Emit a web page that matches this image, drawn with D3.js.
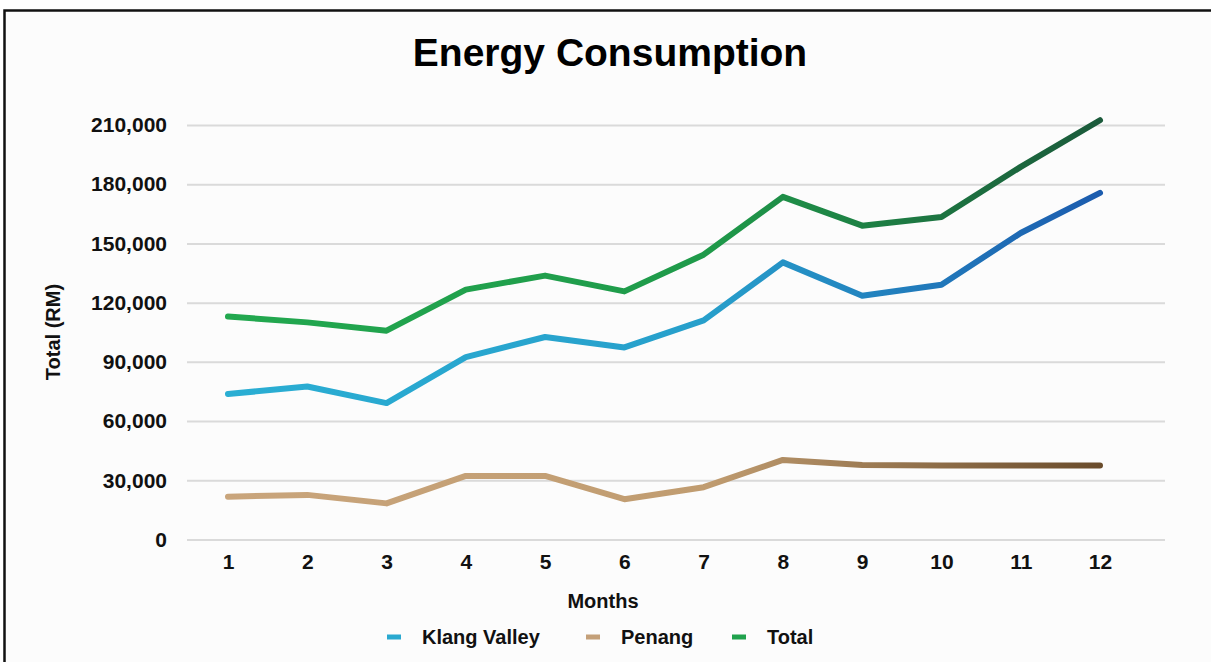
<!DOCTYPE html>
<html>
<head>
<meta charset="utf-8">
<script src="https://cdn.jsdelivr.net/npm/d3@7"></script>
<style>
  body { margin: 0; background: #fff; }
  svg { display: block; font-family: "Liberation Sans", Arial, sans-serif; font-weight: bold; }
</style>
</head>
<body>
<svg id="chart" width="1211" height="662"></svg>
<script>
// chart data
const months = [1, 2, 3, 4, 5, 6, 7, 8, 9, 10, 11, 12];
const klangValley = [73700, 77500, 69100, 92400, 102600, 97300, 111000, 140400, 123500, 129100, 155300, 175600];
const penang = [21700, 22600, 18300, 32200, 32200, 20400, 26500, 40300, 37800, 37500, 37500, 37500];
const total = [113000, 110000, 105800, 126600, 133700, 125700, 144300, 173600, 159000, 163400, 188800, 212400];
const yTicks = [0, 30000, 60000, 90000, 120000, 150000, 180000, 210000];
const seriesNames = ['Klang Valley', 'Penang', 'Total'];

const svg = d3.select('#chart');
const W = 1211, H = 662;

// frame
svg.append('rect')
    .attr('x', 4.5).attr('y', 10.5)
    .attr('width', W + 20).attr('height', H + 20)
    .attr('fill', '#fcfcfc')
    .attr('stroke', '#111')
    .attr('stroke-width', 2.5);

const plot = { left: 187, right: 1165, top: 125, bottom: 539.5 };

const x = d3.scaleLinear()
    .domain([1, 12])
    .range([228, 1100]);

const y = d3.scaleLinear()
    .domain([0, 210000])
    .range([plot.bottom, plot.top]);

// gridlines
svg.append('g')
    .attr('transform', `translate(${plot.left},0)`)
    .call(d3.axisLeft(y).tickValues(yTicks).tickSize(-(plot.right - plot.left)).tickFormat(''))
    .call(g => g.select('.domain').remove())
    .call(g => g.selectAll('line').attr('stroke', '#dadada').attr('stroke-width', 2));

// y tick labels
svg.append('g')
    .attr('transform', 'translate(167,0)')
    .call(d3.axisLeft(y).tickValues(yTicks).tickSize(0).tickPadding(0).tickFormat(d3.format(',')))
    .call(g => g.select('.domain').remove())
    .call(g => g.selectAll('text')
        .attr('font-size', 21).attr('font-family', null).attr('fill', '#111'));

// x tick labels
svg.append('g')
    .attr('transform', 'translate(0,554)')
    .call(d3.axisBottom(x).tickValues(months).tickSize(0).tickPadding(0).tickFormat(d3.format('d')))
    .call(g => g.select('.domain').remove())
    .call(g => g.selectAll('text')
        .attr('font-size', 21).attr('font-family', null).attr('fill', '#111'));

// titles
svg.append('text')
    .attr('x', 610).attr('y', 66)
    .attr('text-anchor', 'middle')
    .attr('font-size', 39)
    .attr('fill', '#000')
    .text('Energy Consumption');

svg.append('text')
    .attr('x', 603).attr('y', 608)
    .attr('text-anchor', 'middle')
    .attr('font-size', 20)
    .attr('fill', '#111')
    .text('Months');

svg.append('text')
    .attr('transform', 'translate(60,332) rotate(-90)')
    .attr('text-anchor', 'middle')
    .attr('font-size', 20)
    .attr('fill', '#111')
    .text('Total (RM)');

// gradients: each line darkens toward the last month
const gradients = [
    { id: 'gKV', stops: ['#2aaed3', '#279fcb', '#1c5cae'] },
    { id: 'gPN', stops: ['#c9a57c', '#c09c70', '#6a4c2c'] },
    { id: 'gTO', stops: ['#22a84f', '#1f9a4a', '#1b5a3b'] }
];
const defs = svg.append('defs');
gradients.forEach(gr => {
    const lg = defs.append('linearGradient')
        .attr('id', gr.id)
        .attr('gradientUnits', 'userSpaceOnUse')
        .attr('x1', x(1)).attr('x2', x(12))
        .attr('y1', 0).attr('y2', 0);
    lg.selectAll('stop')
        .data(gr.stops)
        .enter().append('stop')
        .attr('offset', (d, i) => [0, 0.55, 1][i])
        .attr('stop-color', d => d);
});

const series = [
    { name: seriesNames[1], values: penang, stroke: 'url(#gPN)' },
    { name: seriesNames[0], values: klangValley, stroke: 'url(#gKV)' },
    { name: seriesNames[2], values: total, stroke: 'url(#gTO)' }
];

const line = d3.line()
    .x((d, i) => x(months[i]))
    .y(d => y(d));

svg.append('g').selectAll('path')
    .data(series)
    .enter().append('path')
    .attr('d', d => line(d.values))
    .attr('fill', 'none')
    .attr('stroke', d => d.stroke)
    .attr('stroke-width', 6)
    .attr('stroke-linejoin', 'round')
    .attr('stroke-linecap', 'round');

// legend
const legendItems = [
    { name: seriesNames[0], color: '#2aa9d0', x: 387 },
    { name: seriesNames[1], color: '#c4a079', x: 586 },
    { name: seriesNames[2], color: '#20a24d', x: 732 }
];
const legend = svg.append('g').attr('transform', 'translate(0,637)');
const li = legend.selectAll('g')
    .data(legendItems)
    .enter().append('g')
    .attr('transform', d => `translate(${d.x},0)`);
li.append('line')
    .attr('x1', 0).attr('x2', 14)
    .attr('stroke', d => d.color)
    .attr('stroke-width', 5);
li.append('text')
    .attr('x', 35).attr('dy', '0.36em')
    .attr('font-size', 20)
    .attr('fill', '#111')
    .text(d => d.name);
</script>
</body>
</html>
